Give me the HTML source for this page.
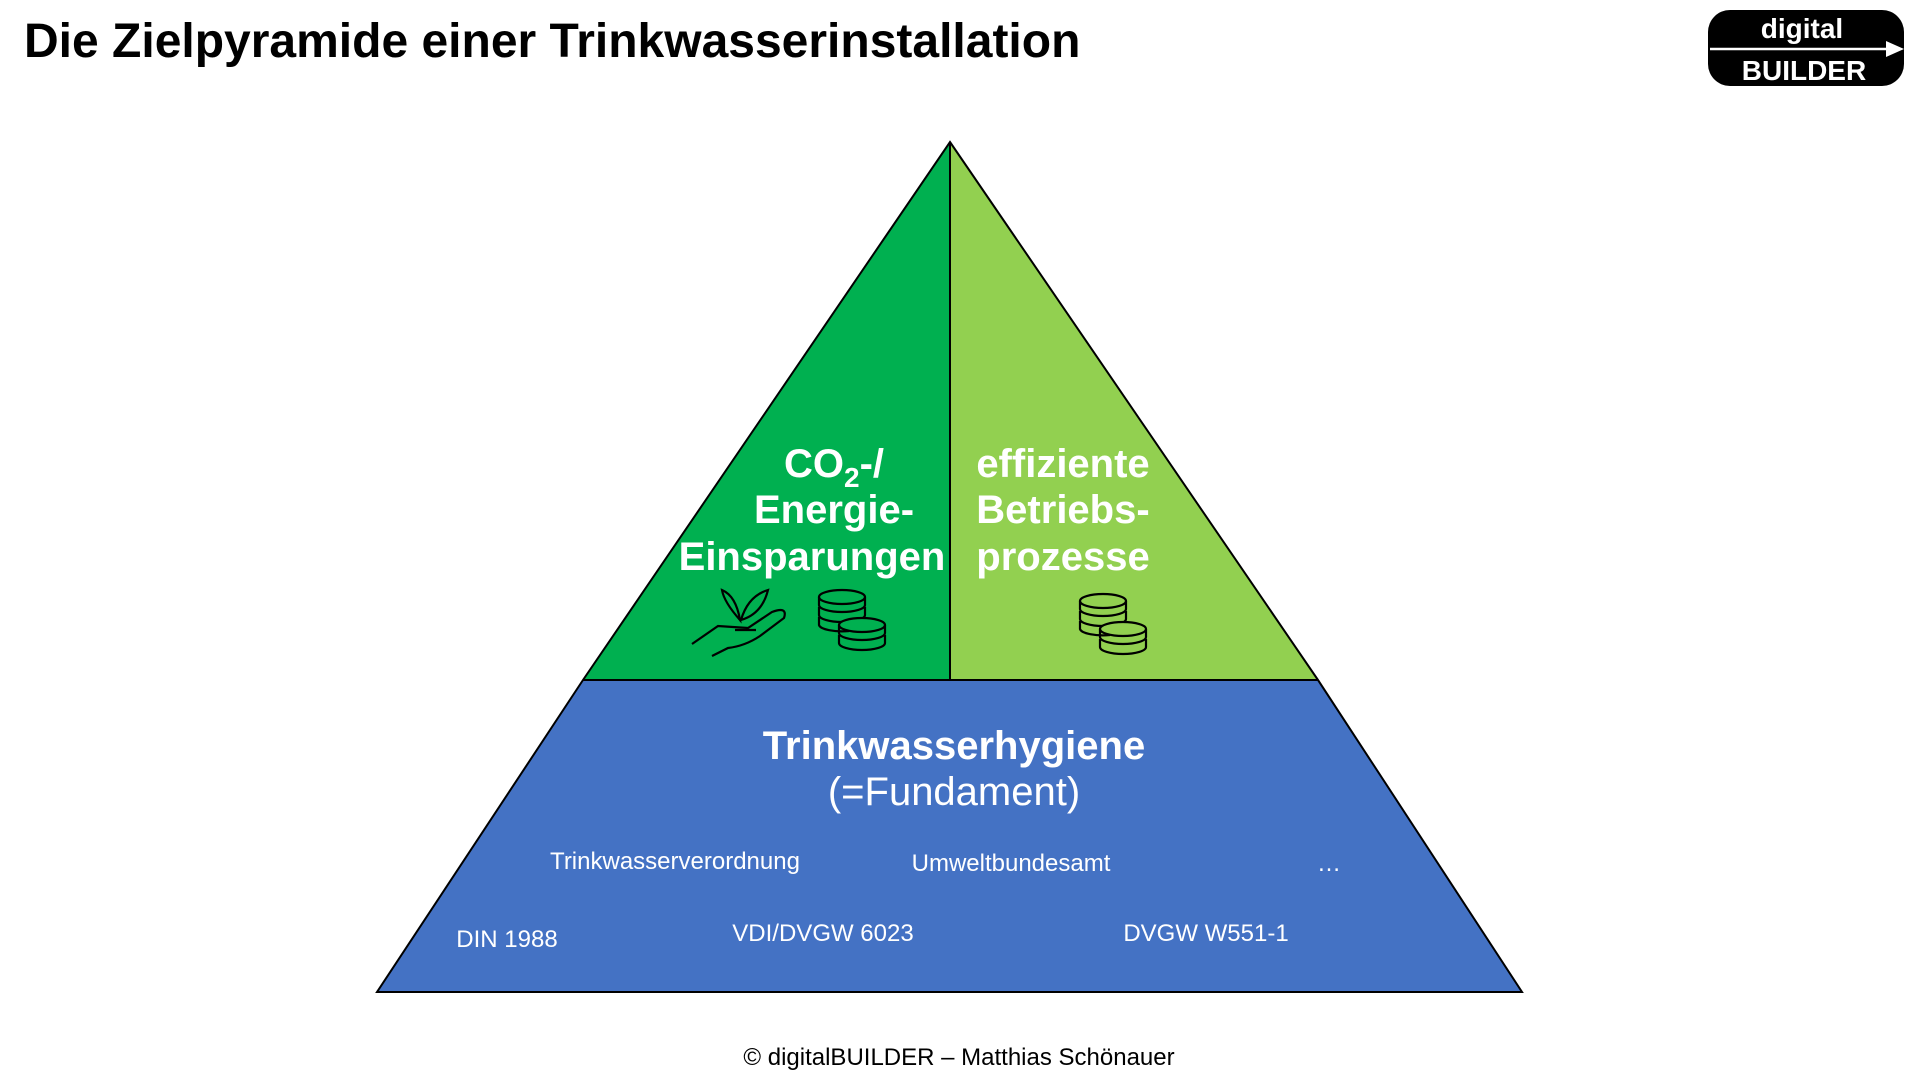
<!DOCTYPE html>
<html><head><meta charset="utf-8"><style>
body{margin:0;width:1920px;height:1080px;background:#fff;overflow:hidden;font-family:"Liberation Sans",Arial,sans-serif;}
</style></head><body>
<svg width="1920" height="1080" viewBox="0 0 1920 1080" xmlns="http://www.w3.org/2000/svg" font-family="Liberation Sans, Arial, sans-serif">
<text x="24" y="57" font-size="48" font-weight="bold" fill="#000">Die Zielpyramide einer Trinkwasserinstallation</text>
<!-- logo -->
<rect x="1708" y="10" width="196" height="76" rx="22" fill="#000"/>
<text x="1802" y="38" font-size="28" font-weight="bold" fill="#fff" text-anchor="middle">digital</text>
<line x1="1710" y1="49" x2="1890" y2="49" stroke="#fff" stroke-width="2.5"/>
<polygon points="1886,41 1904,49 1886,57" fill="#fff"/>
<text x="1804" y="80" font-size="28" font-weight="bold" fill="#fff" text-anchor="middle">BUILDER</text>
<!-- pyramid -->
<polygon points="950,142 950,680 583,680" fill="#00b050"/>
<polygon points="950,142 950,680 1318,680" fill="#92d050"/>
<polygon points="583,680 1318,680 1522,992 377,992" fill="#4472c4"/>
<polygon points="950,142 1318,680 1522,992 377,992 583,680" fill="none" stroke="#000" stroke-width="2"/>
<line x1="583" y1="680" x2="1318" y2="680" stroke="#000" stroke-width="2"/>
<line x1="950" y1="142" x2="950" y2="680" stroke="#000" stroke-width="2"/>
<g font-size="40" font-weight="bold" fill="#fff" text-anchor="middle">
<text x="834" y="477">CO<tspan font-size="28" dy="10">2</tspan><tspan dy="-10">-/</tspan></text>
<text x="834" y="523">Energie-</text>
<text x="812" y="570">Einsparungen</text>
<text x="1063" y="477">effiziente</text>
<text x="1063" y="523">Betriebs-</text>
<text x="1063" y="570">prozesse</text>
<text x="954" y="759" font-size="40">Trinkwasserhygiene</text>
</g>
<text x="954" y="805" font-size="40" fill="#fff" text-anchor="middle">(=Fundament)</text>
<g font-size="24" fill="#fff" text-anchor="middle">
<text x="675" y="869">Trinkwasserverordnung</text>
<text x="1011" y="871">Umweltbundesamt</text>
<text x="1329" y="871">…</text>
<text x="507" y="947">DIN 1988</text>
<text x="823" y="941">VDI/DVGW 6023</text>
<text x="1206" y="941">DVGW W551-1</text>
</g>
<!-- icons -->
<g fill="none" stroke="#000" stroke-width="2.2">
<path d="M692 644 L718 626 L748 628 L772 612 Q788 606 784 618 L760 636 Q745 646 728 648 L712 656"/>
<path d="M735 630 L756 630"/>
<path d="M740 620 Q724 602 722 590 Q736 596 740 620 Z"/>
<path d="M741 620 Q748 596 768 590 Q762 614 741 620 Z"/>
</g>
<g fill="none" stroke="#000" stroke-width="2.2">
<ellipse cx="842" cy="597" rx="23" ry="7"/>
<path d="M819 597 v8 a23 7 0 0 0 46 0 v-8"/>
<path d="M819 607 v8 a23 7 0 0 0 46 0 v-8"/>
<path d="M819 617 v8 a23 7 0 0 0 30 6"/>
<ellipse cx="862" cy="625" rx="23" ry="7" fill="#00b050"/>
<path d="M839 625 v8 a23 7 0 0 0 46 0 v-8"/>
<path d="M839 635 v8 a23 7 0 0 0 46 0 v-8"/>
</g>
<g fill="none" stroke="#000" stroke-width="2.2">
<ellipse cx="1103" cy="601" rx="23" ry="7"/>
<path d="M1080 601 v8 a23 7 0 0 0 46 0 v-8"/>
<path d="M1080 611 v8 a23 7 0 0 0 46 0 v-8"/>
<path d="M1080 621 v8 a23 7 0 0 0 30 6"/>
<ellipse cx="1123" cy="629" rx="23" ry="7" fill="#92d050"/>
<path d="M1100 629 v8 a23 7 0 0 0 46 0 v-8"/>
<path d="M1100 639 v8 a23 7 0 0 0 46 0 v-8"/>
</g>
<text x="959" y="1065" font-size="24" fill="#000" text-anchor="middle">© digitalBUILDER – Matthias Schönauer</text>
</svg>
</body></html>
